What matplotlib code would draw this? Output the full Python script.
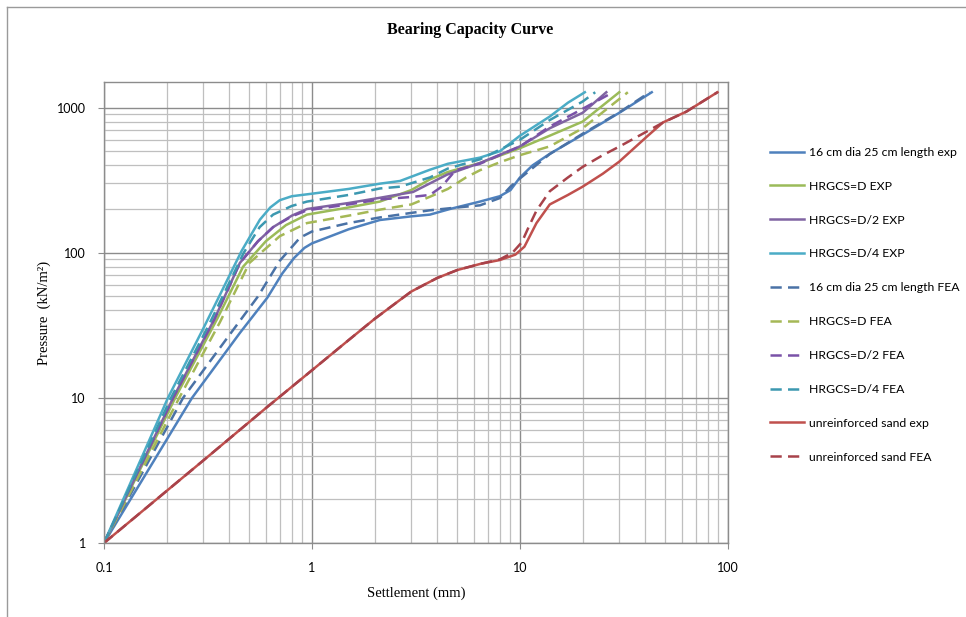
import matplotlib
matplotlib.use("Agg")
import matplotlib.pyplot as plt
from matplotlib.lines import Line2D
from matplotlib.ticker import LogLocator, FixedLocator, NullFormatter

# ---------------- data (settlement mm, pressure kN/m2) ----------------
blue_exp_x = [0.1, 0.265, 0.45, 0.61, 0.72, 0.82, 0.92, 1.0, 1.5, 2.12, 3.0, 3.69, 4.6, 6.42, 8.0, 9.0, 10.0, 11.5, 13.9, 20.0, 30.0, 43.0]
blue_exp_y = [1, 10, 28, 49, 72, 92, 108, 116, 145, 168, 178, 183, 200, 225, 245, 270, 330, 400, 480, 650, 920, 1275]

blue_fea_x = [0.1, 0.24, 0.4, 0.55, 0.7, 0.876, 1.0, 1.5, 2.12, 3.0, 3.69, 5.0, 6.42, 8.0, 9.0, 10.0, 13.9, 20.0, 30.0, 42.0]
blue_fea_y = [1, 10, 27, 50, 88, 127, 140, 160, 175, 188, 196, 205, 212, 238, 285, 325, 478, 660, 925, 1275]

green_exp_x = [0.1, 0.22, 0.35, 0.466, 0.6, 0.75, 0.946, 1.5, 2.12, 3.0, 3.69, 4.5, 6.42, 10.0, 13.9, 20.0, 30.0]
green_exp_y = [1, 10, 35, 80, 120, 155, 183, 205, 225, 270, 320, 360, 415, 525, 640, 800, 1275]

green_fea_x = [0.1, 0.23, 0.36, 0.5, 0.7, 0.946, 1.5, 2.12, 3.0, 3.69, 4.5, 5.5, 6.42, 8.0, 10.0, 13.9, 20.0, 33.0]
green_fea_y = [1, 10, 33, 85, 130, 160, 180, 198, 215, 243, 275, 330, 370, 420, 470, 540, 720, 1275]

purple_exp_x = [0.1, 0.215, 0.34, 0.45, 0.55, 0.65, 0.8, 0.946, 1.5, 2.12, 3.06, 4.46, 6.42, 10.0, 13.9, 20.0, 26.0]
purple_exp_y = [1, 10, 35, 85, 120, 150, 180, 200, 220, 239, 262, 345, 415, 540, 720, 920, 1275]

purple_fea_x = [0.1, 0.215, 0.34, 0.45, 0.55, 0.65, 0.8, 0.946, 1.5, 2.12, 3.0, 3.69, 4.2, 4.9, 6.42, 10.0, 13.9, 20.0, 28.0]
purple_fea_y = [1, 10, 35, 85, 120, 150, 178, 196, 215, 233, 242, 250, 285, 370, 410, 540, 740, 980, 1275]

aqua_exp_x = [0.1, 0.203, 0.3, 0.459, 0.562, 0.63, 0.7, 0.8, 1.0, 1.5, 2.12, 2.65, 3.69, 4.5, 6.42, 8.0, 10.0, 13.9, 17.0, 20.5]
aqua_exp_y = [1, 10, 30, 103, 169, 205, 230, 245, 255, 275, 299, 312, 373, 410, 452, 500, 640, 867, 1080, 1275]

aqua_fea_x = [0.1, 0.21, 0.32, 0.47, 0.56, 0.65, 0.8, 0.946, 1.5, 2.12, 2.65, 3.69, 4.5, 6.42, 10.0, 13.9, 20.0, 23.0]
aqua_fea_y = [1, 10, 32, 100, 150, 183, 210, 225, 250, 277, 285, 330, 380, 440, 600, 820, 1100, 1275]

red_exp_x = [0.1, 0.3, 0.6, 1.0, 1.5, 2.0, 3.0, 4.0, 5.0, 6.5, 8.0, 9.5, 10.5, 12.0, 13.9, 17.0, 20.0, 25.0, 30.0, 40.7, 48.7, 63.0, 89.0]
red_exp_y = [1, 3.7, 8.5, 15.5, 25, 35, 54, 67, 76, 84, 89, 97, 110, 160, 215, 250, 285, 350, 424, 630, 790, 937, 1275]

red_fea_x = [0.1, 0.3, 0.6, 1.0, 1.5, 2.0, 3.0, 4.0, 5.0, 6.5, 8.0, 9.2, 10.2, 11.0, 12.0, 13.9, 17.0, 20.0, 25.0, 30.0, 40.7, 48.7, 63.0, 89.0]
red_fea_y = [1, 3.7, 8.5, 15.5, 25, 35, 54, 67, 76, 84, 90, 100, 118, 150, 195, 265, 330, 390, 470, 538, 684, 788, 937, 1275]

labels = ["16 cm dia 25 cm length exp", "HRGCS=D EXP", "HRGCS=D/2 EXP", "HRGCS=D/4 EXP",
          "16 cm dia 25 cm length FEA", "HRGCS=D FEA", "HRGCS=D/2 FEA", "HRGCS=D/4 FEA",
          "unreinforced sand exp", "unreinforced sand FEA"]

x_ticks = [0.1, 1, 10, 100]
x_ticklabels = ["0.1", "1", "10", "100"]
y_ticks = [1, 10, 100, 1000]
y_ticklabels = ["1", "10", "100", "1000"]

series = [
    (blue_exp_x, blue_exp_y, "#4F81BD", "-"),
    (green_exp_x, green_exp_y, "#9BBB59", "-"),
    (purple_exp_x, purple_exp_y, "#8064A2", "-"),
    (aqua_exp_x, aqua_exp_y, "#4BACC6", "-"),
    (blue_fea_x, blue_fea_y, "#4A72A6", "--"),
    (green_fea_x, green_fea_y, "#A5B856", "--"),
    (purple_fea_x, purple_fea_y, "#7A52A8", "--"),
    (aqua_fea_x, aqua_fea_y, "#3C98B0", "--"),
    (red_exp_x, red_exp_y, "#C0504D", "-"),
    (red_fea_x, red_fea_y, "#A8424A", "--"),
]

# ---------------- figure ----------------
fig = plt.figure(figsize=(9.66, 6.17), dpi=100)
ax = fig.add_axes([104/966, 1-543/617, (728-104)/966, (543-82)/617])

handles = []
for (xs, ys, c, ls), lab in zip(series, labels):
    if ls == "--":
        h, = ax.plot(xs, ys, color=c, lw=1.8, linestyle=(0, (4.5, 2.5)), label=lab)
    else:
        h, = ax.plot(xs, ys, color=c, lw=1.8, label=lab)
    handles.append(h)

ax.set_xscale("log")
ax.set_yscale("log")
ax.set_xlim(0.1, 100)
ax.set_ylim(1, 1500)

ax.xaxis.set_major_locator(FixedLocator(x_ticks))
ax.set_xticklabels(x_ticklabels)
ax.yaxis.set_major_locator(FixedLocator(y_ticks))
ax.set_yticklabels(y_ticklabels)
ax.xaxis.set_minor_locator(LogLocator(base=10, subs=range(2, 10)))
ax.yaxis.set_minor_locator(LogLocator(base=10, subs=range(2, 10)))
ax.xaxis.set_minor_formatter(NullFormatter())
ax.yaxis.set_minor_formatter(NullFormatter())

ax.grid(True, which="major", color="#8C8C8C", lw=1.0)
ax.grid(True, which="minor", color="#BFBFBF", lw=0.9)
ax.set_axisbelow(True)
for s in ax.spines.values():
    s.set_color("#8C8C8C")
    s.set_linewidth(1.0)
ax.tick_params(which="major", length=4, color="#8C8C8C", labelsize=9)
ax.tick_params(which="minor", length=0)
for lbl in ax.get_xticklabels() + ax.get_yticklabels():
    lbl.set_fontfamily("Lato")
ax.tick_params(axis="y", pad=9)
ax.tick_params(axis="x", pad=10)

ax.set_xlabel("Settlement (mm)", fontfamily="Liberation Serif", fontsize=10.5, labelpad=9)
ax.set_ylabel("Pressure  (kN/m²)", fontfamily="Liberation Serif", fontsize=10.5, labelpad=4)

fig.text(470/966, 1-30/617, "Bearing Capacity Curve", ha="center", va="center",
         fontfamily="Liberation Serif", fontweight="bold", fontsize=11.5)

leg = fig.legend(handles=handles, loc="upper left", bbox_to_anchor=(765/966, 1-142/617),
                 frameon=False, prop={"family": "Lato", "size": 8.8},
                 handlelength=2.8, handletextpad=0.4, labelspacing=1.87, borderaxespad=0)

# chart-area border (left and top edges)
fig.add_artist(Line2D([7/966, 7/966], [0, 1-7/617], transform=fig.transFigure, color="#9A9A9A", lw=1.0))
fig.add_artist(Line2D([7/966, 1], [1-7/617, 1-7/617], transform=fig.transFigure, color="#9A9A9A", lw=1.0))

fig.savefig("out.png", dpi=100, facecolor="white")
